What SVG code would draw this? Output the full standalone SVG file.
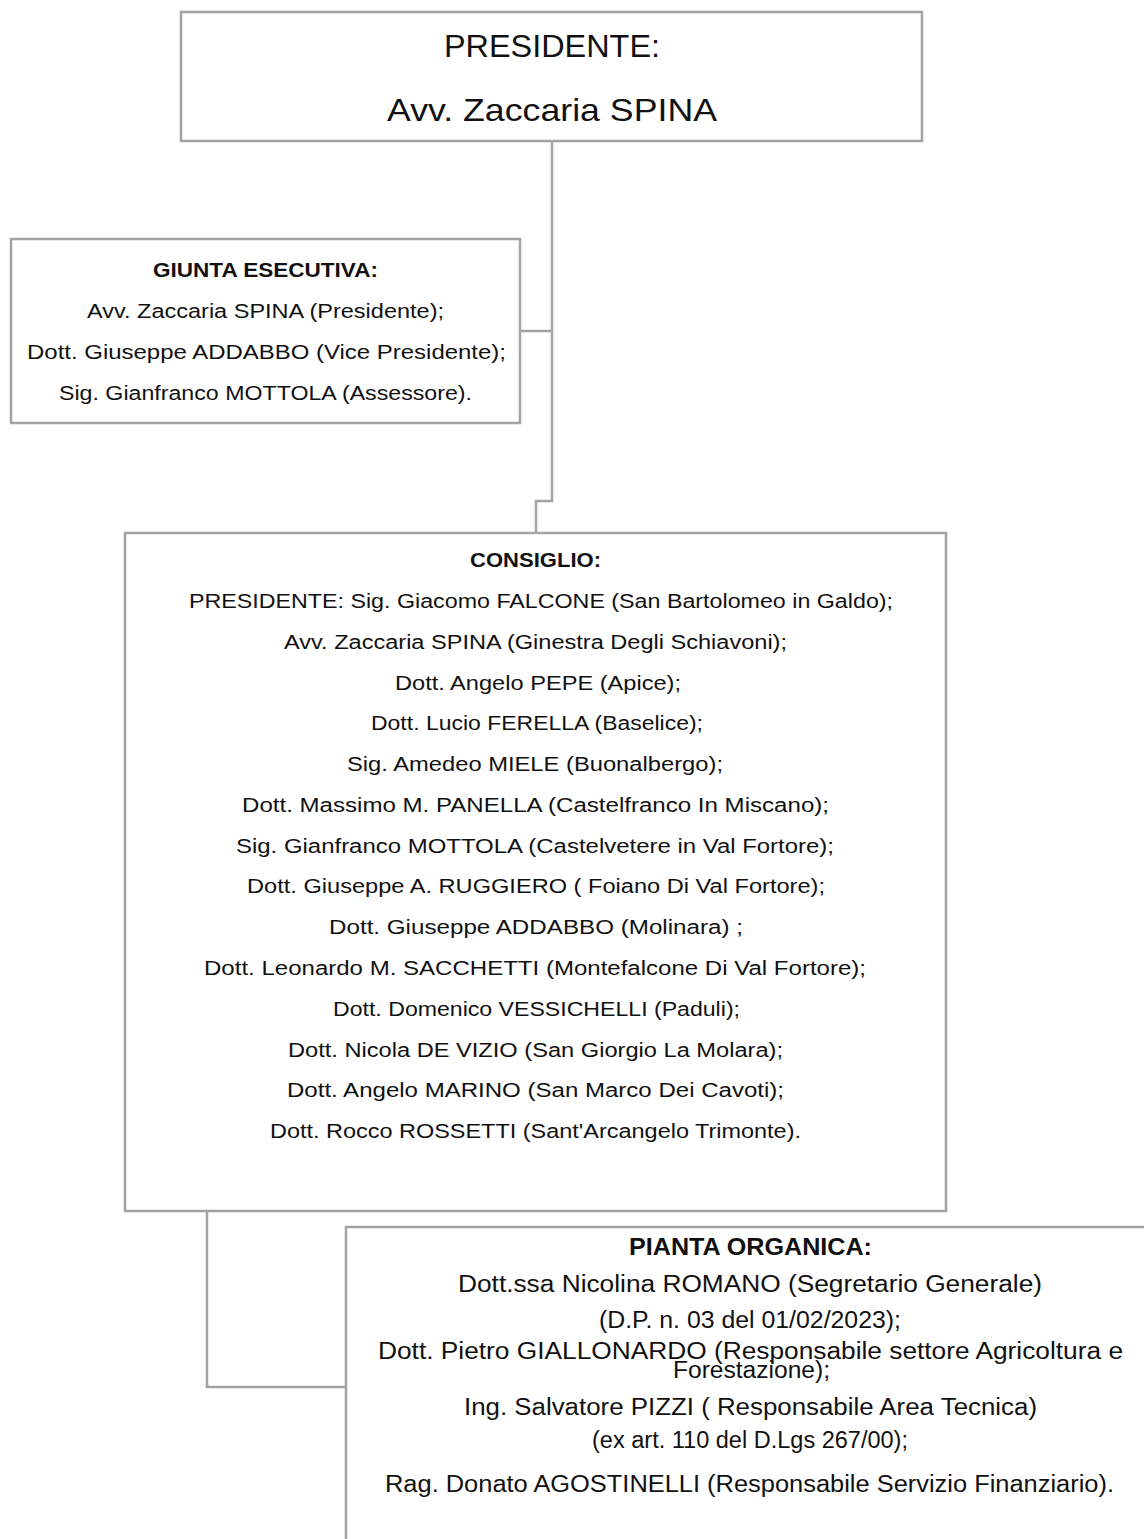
<svg xmlns="http://www.w3.org/2000/svg" width="1144" height="1539" viewBox="0 0 1144 1539">
<style>
.box{fill:#fff;stroke:#a3a3a3;stroke-width:2.5}
.con{fill:none;stroke:#a3a3a3;stroke-width:2.5}
text{font-family:"Liberation Sans",Arial,sans-serif;fill:#111;text-anchor:middle}
.big{font-size:32px}
.t{font-size:20px}
.b{font-size:20px;font-weight:bold}
.p{font-size:23px}
.pb{font-size:23px;font-weight:bold}
</style>
<rect width="1144" height="1539" fill="#fff"/>
<g id="connectors">
<path class="con" d="M552,142 V501 H536 V533"/>
<path class="con" d="M520,331 H552"/>
<path class="con" d="M207,1211 V1387 H346"/>
</g>
<g id="presidente">
<rect class="box" x="181" y="12" width="741" height="129"/>
<text class="big" x="552" y="57" textLength="216" lengthAdjust="spacingAndGlyphs">PRESIDENTE:</text>
<text class="big" x="552" y="121" textLength="330" lengthAdjust="spacingAndGlyphs">Avv. Zaccaria SPINA</text>
</g>
<g id="giunta">
<rect class="box" x="11" y="239" width="509" height="184"/>
<text class="b" x="265.5" y="277" textLength="225" lengthAdjust="spacingAndGlyphs">GIUNTA ESECUTIVA:</text>
<text class="t" x="265.5" y="318" textLength="357" lengthAdjust="spacingAndGlyphs">Avv. Zaccaria SPINA (Presidente);</text>
<text class="t" x="266.5" y="359" textLength="479" lengthAdjust="spacingAndGlyphs">Dott. Giuseppe ADDABBO (Vice Presidente);</text>
<text class="t" x="265.5" y="400" textLength="413" lengthAdjust="spacingAndGlyphs">Sig. Gianfranco MOTTOLA (Assessore).</text>
</g>
<g id="consiglio">
<rect class="box" x="125" y="533" width="821" height="678"/>
<text class="b" x="535.5" y="567" textLength="131" lengthAdjust="spacingAndGlyphs">CONSIGLIO:</text>
<text class="t" x="541" y="608" textLength="704" lengthAdjust="spacingAndGlyphs">PRESIDENTE: Sig. Giacomo FALCONE (San Bartolomeo in Galdo);</text>
<text class="t" x="535.5" y="648.8" textLength="503" lengthAdjust="spacingAndGlyphs">Avv. Zaccaria SPINA (Ginestra Degli Schiavoni);</text>
<text class="t" x="538" y="689.5" textLength="286" lengthAdjust="spacingAndGlyphs">Dott. Angelo PEPE (Apice);</text>
<text class="t" x="537" y="730.3" textLength="332" lengthAdjust="spacingAndGlyphs">Dott. Lucio FERELLA (Baselice);</text>
<text class="t" x="535" y="771.1" textLength="376" lengthAdjust="spacingAndGlyphs">Sig. Amedeo MIELE (Buonalbergo);</text>
<text class="t" x="535.5" y="811.9" textLength="587" lengthAdjust="spacingAndGlyphs">Dott. Massimo M. PANELLA (Castelfranco In Miscano);</text>
<text class="t" x="535" y="852.6" textLength="598" lengthAdjust="spacingAndGlyphs">Sig. Gianfranco MOTTOLA (Castelvetere  in Val Fortore);</text>
<text class="t" x="536" y="893.4" textLength="578" lengthAdjust="spacingAndGlyphs">Dott. Giuseppe A. RUGGIERO ( Foiano Di Val Fortore);</text>
<text class="t" x="536" y="934.2" textLength="414" lengthAdjust="spacingAndGlyphs">Dott. Giuseppe ADDABBO (Molinara) ;</text>
<text class="t" x="535" y="975" textLength="662" lengthAdjust="spacingAndGlyphs">Dott. Leonardo M. SACCHETTI (Montefalcone Di Val Fortore);</text>
<text class="t" x="536.5" y="1015.7" textLength="407" lengthAdjust="spacingAndGlyphs">Dott. Domenico VESSICHELLI (Paduli);</text>
<text class="t" x="535.5" y="1056.5" textLength="495" lengthAdjust="spacingAndGlyphs">Dott. Nicola DE VIZIO (San Giorgio La Molara);</text>
<text class="t" x="535.5" y="1097.3" textLength="497" lengthAdjust="spacingAndGlyphs">Dott. Angelo MARINO (San Marco Dei Cavoti);</text>
<text class="t" x="535.5" y="1138" textLength="531" lengthAdjust="spacingAndGlyphs">Dott. Rocco ROSSETTI (Sant'Arcangelo Trimonte).</text>
</g>
<g id="pianta-organica">
<rect class="box" x="346" y="1227" width="820" height="360"/>
<text class="pb" x="750.5" y="1255" textLength="243" lengthAdjust="spacingAndGlyphs">PIANTA ORGANICA:</text>
<text class="p" x="750" y="1292" textLength="584" lengthAdjust="spacingAndGlyphs">Dott.ssa Nicolina ROMANO (Segretario Generale)</text>
<text class="p" x="750" y="1328" textLength="302" lengthAdjust="spacingAndGlyphs">(D.P. n.  03 del 01/02/2023);</text>
<text class="p" x="750.5" y="1359" textLength="745" lengthAdjust="spacingAndGlyphs">Dott. Pietro GIALLONARDO (Responsabile settore Agricoltura e</text>
<text class="p" x="751.5" y="1378" textLength="157" lengthAdjust="spacingAndGlyphs">Forestazione);</text>
<text class="p" x="750.5" y="1415" textLength="573" lengthAdjust="spacingAndGlyphs">Ing. Salvatore PIZZI ( Responsabile Area Tecnica)</text>
<text class="p" x="750" y="1448" textLength="316" lengthAdjust="spacingAndGlyphs">(ex art. 110 del D.Lgs 267/00);</text>
<text class="p" x="749.5" y="1492" textLength="729" lengthAdjust="spacingAndGlyphs">Rag. Donato AGOSTINELLI (Responsabile Servizio Finanziario).</text>
</g>
</svg>
